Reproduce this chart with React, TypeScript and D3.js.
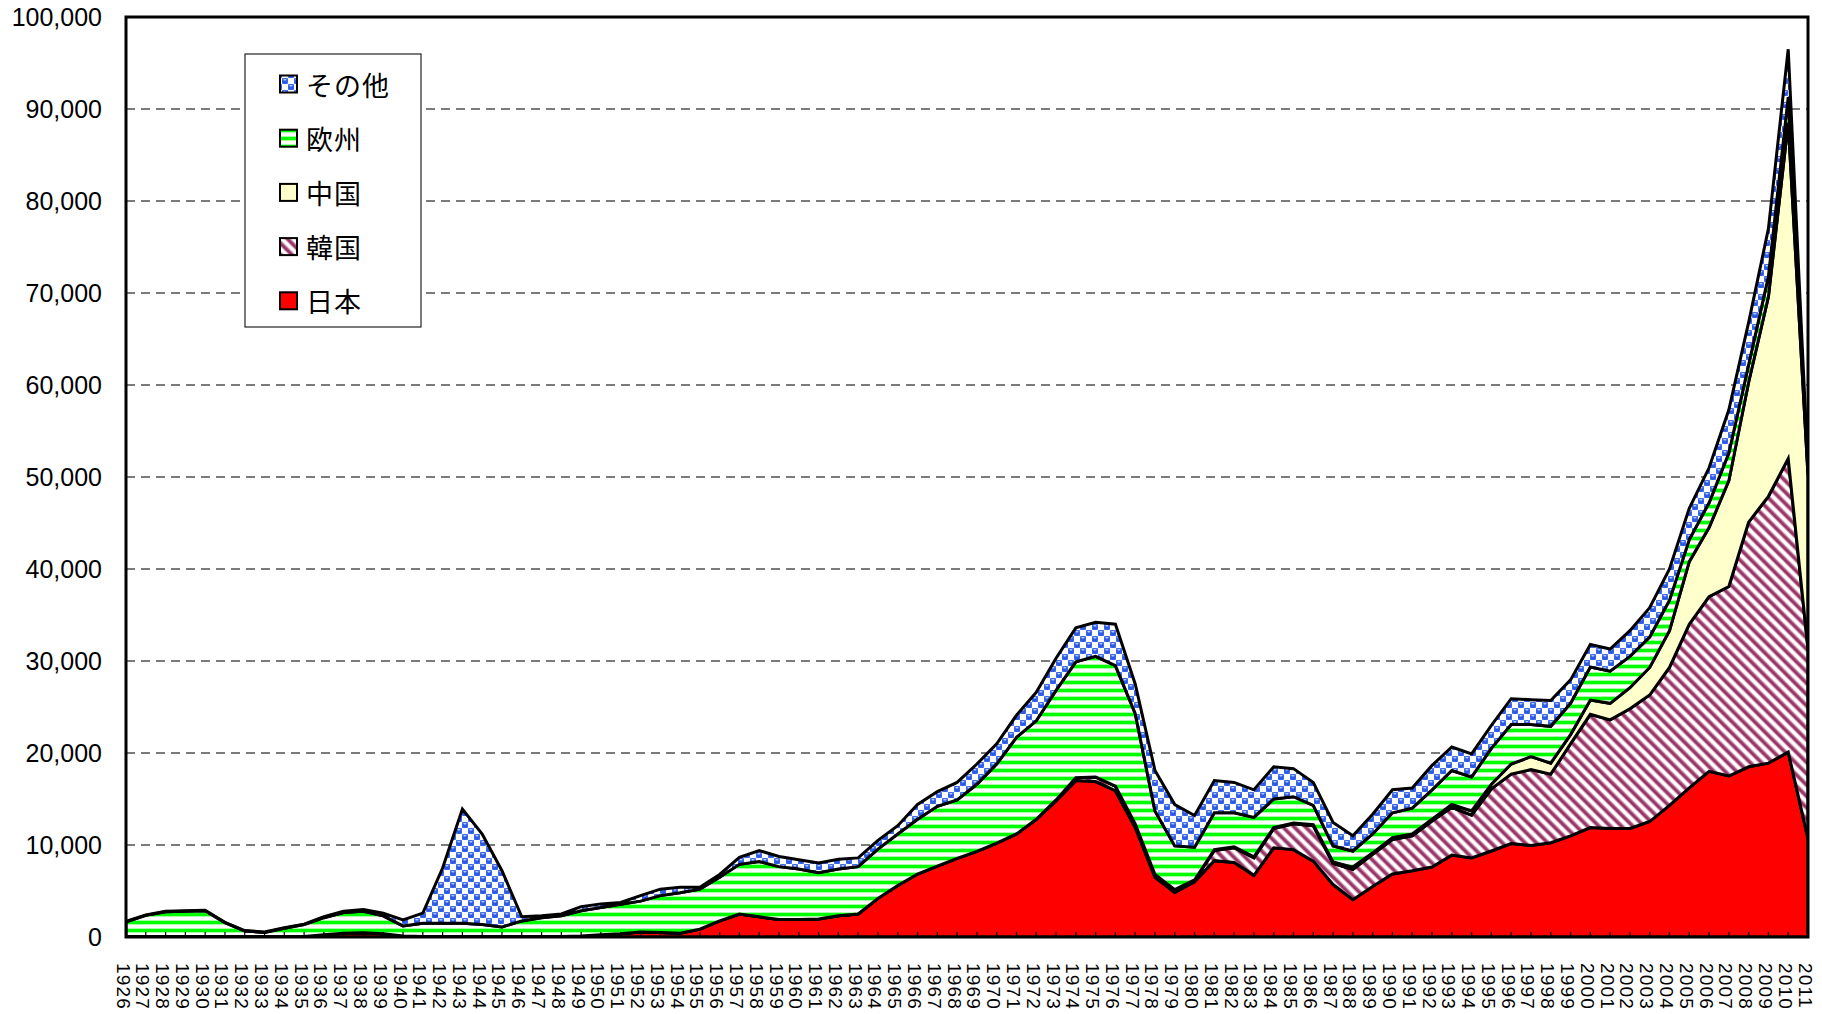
import React, { useRef, useEffect } from 'react'
import * as d3 from 'd3'

// 1926 - 2011
const years = d3.range(1926, 2012)

const japan = [
  50, 50, 50, 50, 50, 50, 50, 50, 50, 50,
  250, 400, 450, 350, 100, 50, 50, 50, 50, 50,
  50, 50, 50, 100, 250, 350, 550, 500, 400, 850,
  1750, 2500, 2200, 1900, 1900, 1950, 2300, 2500, 4200, 5600,
  6850, 7700, 8550, 9300, 10200, 11200, 12800, 14800, 17000, 16900,
  15900, 11900, 6500, 4850, 6000, 8300, 8100, 6700, 9700, 9500,
  8250, 5700, 4050, 5500, 6850, 7200, 7600, 8900, 8600, 9350,
  10150, 9950, 10250, 11000, 11900, 11800, 11800, 12550, 14300, 16200,
  18000, 17500, 18500, 18900, 20100, 10700,
]

const korea = [
  0, 0, 0, 0, 0, 0, 0, 0, 0, 0,
  0, 0, 0, 0, 0, 0, 0, 0, 0, 0,
  0, 0, 0, 0, 0, 0, 0, 0, 0, 0,
  0, 0, 0, 0, 0, 0, 0, 0, 0, 0,
  0, 0, 0, 0, 0, 0, 0, 100, 300, 500,
  500, 400, 300, 300, 200, 1100, 1600, 1900, 2100, 2800,
  3850, 2300, 3300, 3500, 3750, 3800, 5000, 5200, 4650, 6750,
  7550, 8250, 7450, 10000, 12300, 11800, 13000, 13750, 15000, 17800,
  19000, 20600, 26600, 29000, 31900, 20600,
]

const china = [
  0, 0, 0, 0, 0, 0, 0, 0, 0, 0,
  0, 0, 0, 0, 0, 0, 0, 0, 0, 0,
  0, 0, 0, 0, 0, 0, 0, 0, 0, 0,
  0, 0, 0, 0, 0, 0, 0, 0, 0, 0,
  0, 0, 0, 0, 0, 0, 0, 0, 0, 0,
  0, 0, 0, 0, 0, 100, 100, 100, 100, 100,
  100, 150, 250, 150, 200, 200, 200, 300, 450, 500,
  1100, 1400, 1200, 1000, 1550, 1800, 2300, 3000, 4000, 6800,
  7500, 11500, 15200, 21700, 36500, 18900,
]

const europe = [
  1600, 2300, 2700, 2750, 2800, 1500, 600, 450, 900, 1300,
  1850, 2250, 2350, 1950, 1100, 1450, 1450, 1450, 1300, 1050,
  1700, 2050, 2250, 2750, 2950, 3200, 3350, 4000, 4400, 4350,
  4750, 5400, 6000, 5750, 5500, 5050, 5100, 5150, 5350, 5600,
  5950, 6500, 6350, 7300, 8600, 10500, 10700, 11900, 12600, 13100,
  13100, 12000, 6900, 4750, 3550, 4000, 3700, 4300, 3100, 2850,
  2100, 1750, 1750, 2050, 2700, 2800, 3200, 3700, 3700, 3900,
  4300, 3500, 4000, 3400, 3600, 3500, 3400, 3300, 3300, 2400,
  2700, 3000, 1900, 2200, 2800, 400,
]

const other = [
  50, 50, 50, 50, 50, 50, 50, 50, 50, 50,
  100, 150, 200, 300, 650, 1100, 6000, 12400, 9850, 6100,
  450, 200, 200, 450, 400, 200, 600, 700, 600, 200,
  300, 750, 1200, 1100, 1000, 1050, 1050, 950, 950, 900,
  1600, 1600, 1900, 2200, 2200, 2400, 3100, 3500, 3700, 3700,
  4500, 3200, 4400, 4500, 3450, 3500, 3300, 3000, 3500, 3050,
  2500, 2550, 1650, 2150, 2500, 2200, 2650, 2550, 2500, 2500,
  2800, 2700, 2800, 2550, 2450, 2400, 2800, 3200, 3400, 3400,
  3800, 4700, 4600, 5200, 5200, 400,
]

const seriesKeys = ['japan', 'korea', 'china', 'europe', 'other']
const legendItems = [
  { key: 'other', label: 'その他' },
  { key: 'europe', label: '欧州' },
  { key: 'china', label: '中国' },
  { key: 'korea', label: '韓国' },
  { key: 'japan', label: '日本' },
]
const yTickValues = [0, 10000, 20000, 30000, 40000, 50000, 60000, 70000, 80000, 90000, 100000]

const fills: Record<string, string> = {
  japan: '#ff0000',
  korea: 'url(#pat-korea)',
  china: '#ffffcc',
  europe: 'url(#pat-europe)',
  other: 'url(#pat-other)',
}

const latin = '"Liberation Sans", Arial, Helvetica, sans-serif'
const cjk = '"Noto Sans CJK JP", "Noto Sans CJK SC", sans-serif'

const App: React.FC = () => {
  const svgRef = useRef<SVGSVGElement>(null)

  useEffect(() => {
    const width = 1822
    const height = 1014
    const left = 126
    const right = 1808
    const top = 17
    const bottom = 937

    const x = d3.scaleLinear().domain([1926, 2011]).range([left, right])
    const y = d3.scaleLinear().domain([0, 100000]).range([bottom, top])

    const rows = years.map((yr, i) => ({
      year: yr,
      japan: japan[i],
      korea: korea[i],
      china: china[i],
      europe: europe[i],
      other: other[i],
    }))
    const stacked = d3.stack<any>().keys(seriesKeys)(rows)

    const svg = d3.select(svgRef.current!)
    svg.selectAll('*').remove()
    svg.attr('viewBox', `0 0 ${width} ${height}`)

    const defs = svg.append('defs')

    // その他: blue checker of little spheres
    const pOther = defs
      .append('pattern')
      .attr('id', 'pat-other')
      .attr('patternUnits', 'userSpaceOnUse')
      .attr('width', 12)
      .attr('height', 12)
    pOther.append('rect').attr('width', 12).attr('height', 12).attr('fill', '#ffffff')
    ;[
      [0, 0],
      [6, 6],
    ].forEach(([cx, cy]) => {
      pOther.append('rect').attr('x', cx).attr('y', cy).attr('width', 6).attr('height', 6).attr('fill', '#5b84f4')
      pOther.append('circle').attr('cx', cx + 3).attr('cy', cy + 3.1).attr('r', 2.9).attr('fill', '#2b5ae6')
      pOther
        .append('ellipse')
        .attr('cx', cx + 2.9)
        .attr('cy', cy + 1.7)
        .attr('rx', 1.6)
        .attr('ry', 0.8)
        .attr('fill', '#c8d6ff')
    })
    ;[
      [6, 0],
      [0, 6],
    ].forEach(([cx, cy]) => {
      pOther.append('rect').attr('x', cx + 0.7).attr('y', cy + 0.7).attr('width', 4.6).attr('height', 4.6).attr('fill', '#ffffff')
    })

    // 欧州: horizontal green stripes
    const pEu = defs
      .append('pattern')
      .attr('id', 'pat-europe')
      .attr('patternUnits', 'userSpaceOnUse')
      .attr('width', 8)
      .attr('height', 8)
    pEu.append('rect').attr('width', 8).attr('height', 8).attr('fill', '#ffffff')
    pEu.append('rect').attr('y', 0).attr('width', 8).attr('height', 1).attr('fill', '#a6ffa6')
    pEu.append('rect').attr('y', 1).attr('width', 8).attr('height', 3).attr('fill', '#00ff00')
    pEu.append('rect').attr('y', 4).attr('width', 8).attr('height', 1).attr('fill', '#a6ffa6')

    // 韓国: maroon diagonal stripes
    const pKo = defs
      .append('pattern')
      .attr('id', 'pat-korea')
      .attr('patternUnits', 'userSpaceOnUse')
      .attr('width', 8)
      .attr('height', 8)
      .attr('patternTransform', 'rotate(-45)')
    pKo.append('rect').attr('width', 8).attr('height', 8).attr('fill', '#ffffff')
    pKo.append('rect').attr('x', 0).attr('width', 0.9).attr('height', 8).attr('fill', '#cf9bb5')
    pKo.append('rect').attr('x', 0.9).attr('width', 3).attr('height', 8).attr('fill', '#993366')
    pKo.append('rect').attr('x', 3.9).attr('width', 0.9).attr('height', 8).attr('fill', '#cf9bb5')

    defs
      .append('clipPath')
      .attr('id', 'plot-clip')
      .append('rect')
      .attr('x', left)
      .attr('y', top)
      .attr('width', right - left)
      .attr('height', bottom - top)

    // dashed gridlines
    svg
      .append('g')
      .selectAll('line')
      .data(yTickValues.filter((v) => v > 0 && v < 100000))
      .join('line')
      .attr('x1', left)
      .attr('x2', right)
      .attr('y1', (d) => y(d))
      .attr('y2', (d) => y(d))
      .attr('stroke', '#505050')
      .attr('stroke-width', 1.6)
      .attr('stroke-dasharray', '9,6')

    // stacked areas
    const area = d3
      .area<any>()
      .x((d) => x(d.data.year))
      .y0((d) => y(d[0]))
      .y1((d) => y(d[1]))

    svg
      .append('g')
      .attr('clip-path', 'url(#plot-clip)')
      .selectAll('path')
      .data(stacked)
      .join('path')
      .attr('d', (s) => area(s as any)!)
      .attr('fill', (s) => fills[s.key])
      .attr('stroke', '#000')
      .attr('stroke-width', 3)
      .attr('stroke-linejoin', 'miter')

    // category ticks (inside)
    svg
      .append('g')
      .selectAll('line')
      .data(years)
      .join('line')
      .attr('x1', (d) => x(d))
      .attr('x2', (d) => x(d))
      .attr('y1', bottom)
      .attr('y2', bottom - 5)
      .attr('stroke', '#000')
      .attr('stroke-width', 1.2)

    // frame
    svg
      .append('rect')
      .attr('x', left)
      .attr('y', top)
      .attr('width', right - left)
      .attr('height', bottom - top)
      .attr('fill', 'none')
      .attr('stroke', '#000')
      .attr('stroke-width', 3)

    // y labels
    svg
      .append('g')
      .selectAll('text')
      .data(yTickValues)
      .join('text')
      .attr('x', 102)
      .attr('y', (d) => y(d))
      .attr('text-anchor', 'end')
      .attr('dominant-baseline', 'central')
      .style('font-family', latin)
      .style('font-size', '25px')
      .attr('fill', '#000')
      .text((d) => d3.format(',')(d))

    // x labels, vertical
    svg
      .append('g')
      .selectAll('text')
      .data(years)
      .join('text')
      .attr('transform', (d) => `translate(${x(d) - 3},963) rotate(90)`)
      .attr('dominant-baseline', 'central')
      .style('font-family', latin)
      .style('font-size', '19px')
      .style('letter-spacing', '1.2px')
      .attr('fill', '#000')
      .text((d) => String(d))

    // legend
    const lg = svg.append('g')
    lg.append('rect')
      .attr('x', 245)
      .attr('y', 54)
      .attr('width', 176)
      .attr('height', 273)
      .attr('fill', '#fff')
      .attr('stroke', '#222')
      .attr('stroke-width', 1.2)

    legendItems.forEach((item, i) => {
      const cy = 84 + i * 54.2
      lg.append('rect')
        .attr('x', 280)
        .attr('y', cy - 8.5)
        .attr('width', 17)
        .attr('height', 17)
        .attr('fill', fills[item.key])
        .attr('stroke', '#000')
        .attr('stroke-width', 2)
      lg.append('text')
        .attr('x', 306)
        .attr('y', cy)
        .attr('dominant-baseline', 'central')
        .style('font-family', cjk)
        .style('font-size', '27px')
        .style('letter-spacing', '1px')
        .attr('fill', '#000')
        .text(item.label)
    })
  }, [])

  return (
    <svg
      ref={svgRef}
      width={1822}
      height={1014}
      style={{ position: 'absolute', left: 0, top: 0, display: 'block', background: '#fff' }}
    />
  )
}

export default App
